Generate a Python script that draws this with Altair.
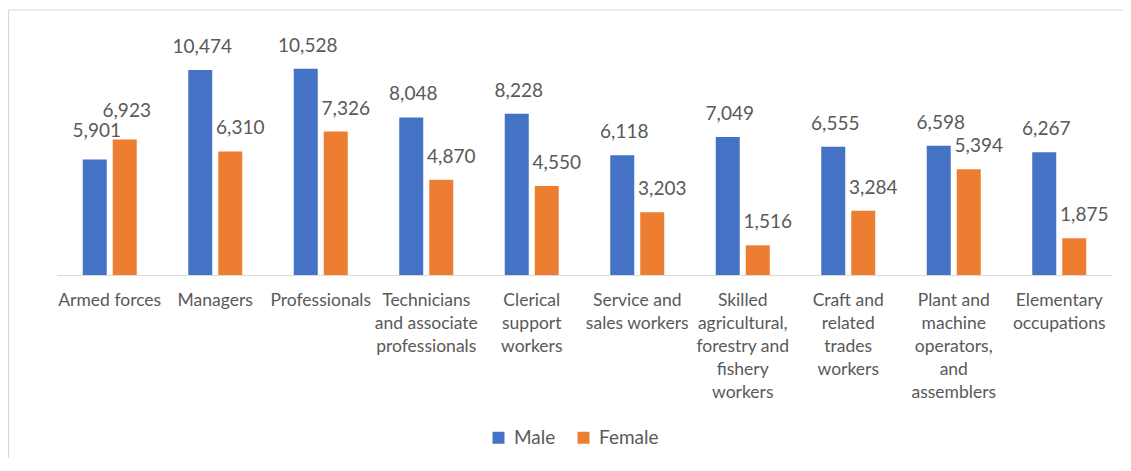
import altair as alt
import pandas as pd

categories = [
    "Armed forces",
    "Managers",
    "Professionals",
    "Technicians\nand associate\nprofessionals",
    "Clerical\nsupport\nworkers",
    "Service and\nsales workers",
    "Skilled\nagricultural,\nforestry and\nfishery\nworkers",
    "Craft and\nrelated\ntrades\nworkers",
    "Plant and\nmachine\noperators,\nand\nassemblers",
    "Elementary\noccupations",
]
male = [5901, 10474, 10528, 8048, 8228, 6118, 7049, 6555, 6598, 6267]
female = [6923, 6310, 7326, 4870, 4550, 3203, 1516, 3284, 5394, 1875]
series = ["Male", "Female"]
colors = ["#4472C4", "#ED7D31"]

rows = []
for c, m, f in zip(categories, male, female):
    rows.append({"category": c, "gender": "Male", "value": m})
    rows.append({"category": c, "gender": "Female", "value": f})
df = pd.DataFrame(rows)

FONT = "Lato"
TXT = "#595959"

x = alt.X(
    "category:N",
    sort=categories,
    scale=alt.Scale(paddingInner=0.4313, paddingOuter=0.2156),
    axis=alt.Axis(
        title=None, labelAngle=0, ticks=False, domainColor="#d9d9d9", domainWidth=1,
        labelColor=TXT, labelFont=FONT, labelFontSize=17.5, labelPadding=16,
        labelLineHeight=23, labelExpr="split(datum.label, '\\n')", labelLimit=200,
        labelOverlap=False,
    ),
)
xoff = alt.XOffset("gender:N", sort=series, scale=alt.Scale(paddingInner=0.2, paddingOuter=0.1))
y = alt.Y("value:Q", scale=alt.Scale(domain=[0, 12000], nice=False), axis=None)
color = alt.Color(
    "gender:N", sort=series,
    scale=alt.Scale(domain=series, range=colors),
    legend=alt.Legend(
        title=None, orient="none", legendX=432, legendY=388, direction="horizontal",
        symbolType="square", symbolSize=144, symbolStrokeWidth=0,
        labelFontSize=19, labelFont=FONT, labelColor=TXT, columnPadding=18, labelOffset=6,
    ),
)

base = alt.Chart(df)
bars = base.mark_bar().encode(x=x, xOffset=xoff, y=y, color=color)

def labels(filt, dx, dy):
    return base.transform_filter(filt).mark_text(
        font=FONT, fontSize=19, color=TXT, dx=dx, dy=dy, baseline="alphabetic", align="center"
    ).encode(x=x, xOffset=xoff, y=y, text=alt.Text("value:Q", format=","))

first = categories[0]
male_lbl = labels(f"datum.gender == 'Male' && datum.category != '{first}'", 2, -17)
female_lbl = labels(f"datum.gender == 'Female' && datum.category != '{first}'", 10, -17)
first_lbl = labels(f"datum.category == '{first}'", 2, -22)

border_df = pd.DataFrame({"k": [0]})
top_border = alt.Chart(border_df).mark_rule(color="#d9d9d9", strokeWidth=1.2).encode(
    x=alt.value(-48.5), x2=alt.value(1080), y=alt.value(-30)
)
left_border = alt.Chart(border_df).mark_rule(color="#d9d9d9", strokeWidth=1.2).encode(
    x=alt.value(-48.5), y=alt.value(-30), y2=alt.value(230 + 188)
)

chart = alt.layer(top_border, left_border, bars, male_lbl, female_lbl, first_lbl).properties(
    width=1055, height=235,
    padding={"left": 49, "top": 32, "right": 11, "bottom": 188},
    autosize=alt.AutoSizeParams(type="none"),
).configure_view(stroke=None)

chart.save("out.html", embed_options={"renderer": "svg", "actions": False})
